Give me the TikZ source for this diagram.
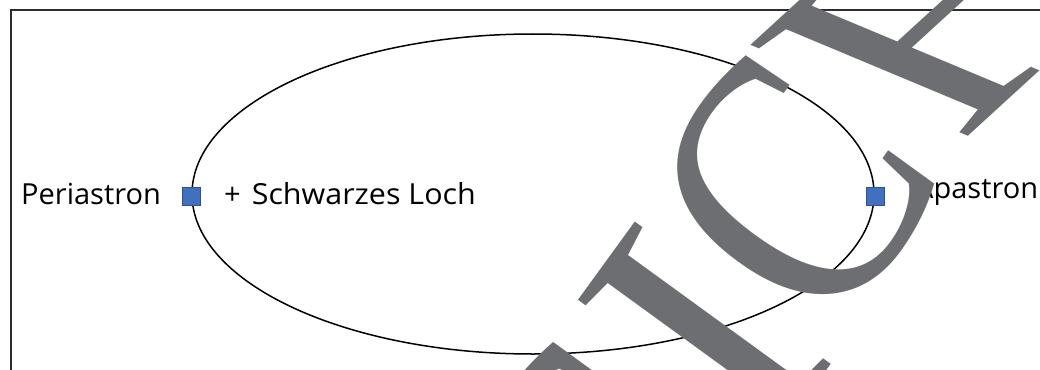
\documentclass[tikz,border=0pt]{standalone}
\usepackage{graphicx}
\usepackage{fontspec}
\setmainfont{Open Sans}
\newfontfamily\wmfont{Liberation Serif}
\definecolor{wmgray}{RGB}{109,110,113}
\definecolor{sqfill}{RGB}{64,112,190}
\definecolor{sqdraw}{RGB}{47,82,143}
\definecolor{framecol}{RGB}{45,45,45}
\begin{document}
\begin{tikzpicture}[x=1pt,y=-1pt,
  lbl/.style={font=\fontsize{29}{32}\selectfont, inner sep=0pt, anchor=base west},
  marker/.style={draw=sqdraw, fill=sqfill, line width=1pt, minimum width=18pt, minimum height=18pt, inner sep=0pt},
  orbit/.style={draw=black, line width=1.5pt},
  watermark/.style={font=\wmfont\fontsize{370}{370}\selectfont, text=wmgray, inner sep=0pt}]
\useasboundingbox (0,0) rectangle (1040,369);
\clip (0,0) rectangle (1040,369);
\draw[line width=2.2pt, framecol] (11,10) rectangle (1100,420);
\draw[orbit] (533,194) ellipse [x radius=341, y radius=160];
\node[marker] (peri) at (191,196.5) {};
\node[marker] (apa) at (875,196.5) {};
\node[lbl] (perilabel) at (21,204.5) {Periastron};
\node[lbl] (bh) at (224,204.5) {+\hspace{11pt}\scalebox{1.05}[1]{Schwarzes Loch}};
\node[lbl] (apalabel) at (915,198.5) {Apastron};
\node[watermark, anchor=base east, rotate=54] (wm1) at (839,353) {ANSI};
\node[watermark, anchor=base west, rotate=55, xscale=0.84] (wm2) at (832,344) {C};
\node[watermark, anchor=base west, cm={0.738,0.675,-0.898,0.3755,(0,0)}] (wm3) at (960,144) {HT};
\end{tikzpicture}
\end{document}
